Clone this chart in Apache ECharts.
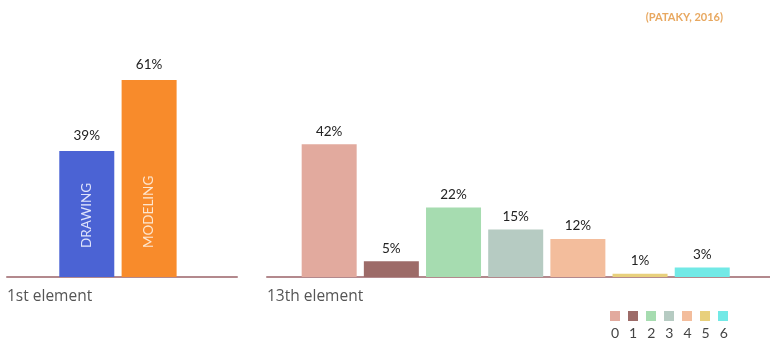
<!DOCTYPE html>
<html>
<head>
<meta charset="utf-8">
<style>
  html, body { margin: 0; padding: 0; background: #ffffff; }
  #chart { width: 770px; height: 340px; }
</style>
<script src="https://cdn.jsdelivr.net/npm/echarts@6/dist/echarts.min.js"></script>
</head>
<body>
<div id="chart"></div>
<script>
// First element: drawing vs modeling share
const firstCategories = ['DRAWING', 'MODELING'];
const firstValues = [39, 61];
const firstColors = ['#4b63d4', '#f88b2b'];

// Thirteenth element: distribution over levels 0–6
const levelNames = ['0', '1', '2', '3', '4', '5', '6'];
const levelValues = [42, 5, 22, 15, 12, 1, 3];
const levelColors = ['#e2aa9e', '#9d6b68', '#a6dcb0', '#b6cbc2', '#f3bd9c', '#e8d07c', '#72e9e6'];

const axisColor = '#b3898d';
const labelFont = 'Lato';

const chart = echarts.init(document.getElementById('chart'), null, { renderer: 'canvas' });

function pctLabel(dist) {
  return {
    show: true,
    position: 'top',
    distance: dist,
    formatter: p => p.value[1] + '%',
    color: '#222',
    fontFamily: labelFont,
    fontSize: 13.5
  };
}

const series = [];

// Left panel: one series per bar so each carries its own inner label
firstCategories.forEach((name, i) => {
  series.push({
    type: 'bar',
    name: name,
    xAxisIndex: 0,
    yAxisIndex: 0,
    barWidth: 55,
    barGap: '-100%',
    itemStyle: { color: firstColors[i] },
    data: [[i, firstValues[i]]],
    label: pctLabel(8)
  });
  series.push({
    type: 'bar',
    name: name + '-inner',
    xAxisIndex: 0,
    yAxisIndex: 0,
    barWidth: 55,
    barGap: '-100%',
    itemStyle: { color: 'transparent' },
    silent: true,
    data: [[i, firstValues[i]]],
    label: {
      show: true,
      position: 'insideBottom',
      distance: 29,
      rotate: 90,
      align: 'left',
      verticalAlign: 'middle',
      formatter: name,
      color: i === 0 ? '#dfe3fb' : '#fde6cf',
      fontFamily: labelFont,
      fontSize: 13.5
    }
  });
});

// Right panel: one series per level so the legend lists each level
levelNames.forEach((name, i) => {
  series.push({
    type: 'bar',
    name: name,
    xAxisIndex: 1,
    yAxisIndex: 1,
    barWidth: 55,
    barGap: '-100%',
    itemStyle: { color: levelColors[i] },
    data: [[i, levelValues[i]]],
    label: pctLabel(6)
  });
});

const hiddenY = {
  type: 'value',
  min: 0,
  axisLine: { show: false },
  axisTick: { show: false },
  axisLabel: { show: false },
  splitLine: { show: false }
};

const baseX = {
  type: 'value',
  axisLine: { show: true, onZero: false, lineStyle: { color: axisColor, width: 2 } },
  axisTick: { show: false },
  axisLabel: { show: false },
  splitLine: { show: false }
};

chart.setOption({
  animation: false,
  title: [
    { text: '(PATAKY, 2016)', right: 42, top: 7,
      textStyle: { color: '#e8a860', fontSize: 11, fontWeight: 'bold', fontFamily: labelFont } },
    { text: '1st element', left: 7, top: 289, padding: 0,
      textStyle: { color: '#555', fontSize: 15.5, fontWeight: 'normal', fontFamily: 'Open Sans' } },
    { text: '13th element', left: 267, top: 289, padding: 0,
      textStyle: { color: '#555', fontSize: 15.5, fontWeight: 'normal', fontFamily: 'Open Sans' } }
  ],
  legend: [
    {
      data: levelNames,
      left: 610,
      top: 311,
      padding: 0,
      icon: 'rect',
      itemWidth: 10,
      itemHeight: 10,
      itemGap: 8,
      selectedMode: false,
      formatter: () => '',
      textStyle: { fontSize: 1 }
    },
    {
      data: levelNames,
      left: 606,
      top: 326,
      padding: 0,
      icon: 'none',
      itemWidth: 0,
      itemHeight: 10,
      itemGap: 5,
      selectedMode: false,
      textStyle: { color: '#444', fontSize: 14, fontFamily: labelFont }
    }
  ],
  grid: [
    { left: 7, right: 533, top: 51, bottom: 63 },
    { left: 267, right: 0, top: 119, bottom: 63 }
  ],
  xAxis: [
    Object.assign({}, baseX, { gridIndex: 0, min: -1.28, max: 2.41 }),
    Object.assign({}, baseX, { gridIndex: 1, min: -1.0, max: 7.09 })
  ],
  yAxis: [
    Object.assign({}, hiddenY, { gridIndex: 0, max: 70 }),
    Object.assign({}, hiddenY, { gridIndex: 1, max: 50 })
  ],
  series: series
});
</script>
</body>
</html>
